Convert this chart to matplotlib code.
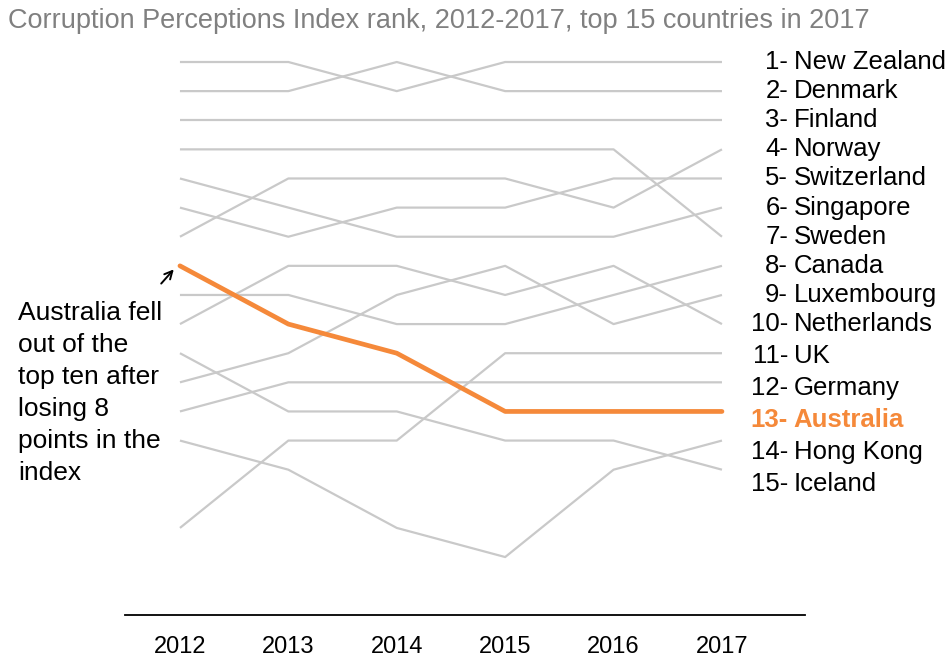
import matplotlib
matplotlib.use("Agg")
import matplotlib.pyplot as plt

plt.rcParams['font.family'] = ['Liberation Sans', 'DejaVu Sans']

# ranks, 2012-2017
years = [2012, 2013, 2014, 2015, 2016, 2017]
countries = ["New Zealand", "Denmark", "Finland", "Norway", "Switzerland",
             "Singapore", "Sweden", "Canada", "Luxembourg", "Netherlands",
             "UK", "Germany", "Australia", "Hong Kong", "Iceland"]
new_zealand = [1, 1, 2, 1, 1, 1]
denmark = [2, 2, 1, 2, 2, 2]
finland = [3, 3, 3, 3, 3, 3]
norway = [7, 5, 5, 5, 6, 4]
switzerland = [6, 7, 6, 6, 5, 5]
singapore = [5, 6, 7, 7, 7, 6]
sweden = [4, 4, 4, 4, 4, 7]
canada = [9, 9, 10, 10, 9, 8]
luxembourg = [12, 11, 9, 8, 10, 9]
netherlands = [10, 8, 8, 9, 8, 10]
uk = [17, 14, 14, 11, 11, 11]
germany = [13, 12, 12, 12, 12, 12]
australia = [8, 10, 11, 13, 13, 13]
hong_kong = [14, 15, 17, 18, 15, 14]
iceland = [11, 13, 13, 14, 14, 15]

ranks = [new_zealand, denmark, finland, norway, switzerland, singapore, sweden,
         canada, luxembourg, netherlands, uk, germany, australia, hong_kong, iceland]

grey = "#c9c9c9"
orange = "#f5893a"

fig = plt.figure(figsize=(9.52, 6.59), dpi=100)
ax = fig.add_axes([125 / 952, 44 / 659, 680 / 952, 575 / 659])

for name, r in zip(countries, ranks):
    if name == "Australia":
        continue
    ax.plot(years, r, color=grey, lw=1.6, solid_capstyle='butt', zorder=1)
ax.plot(years, australia, color=orange, lw=3.4, solid_capstyle='round', zorder=3)

ax.set_xlim(2011.493, 2017.766)
ax.set_ylim(19.99, 0.2445)

for s in ["top", "left", "right"]:
    ax.spines[s].set_visible(False)
ax.spines["bottom"].set_linewidth(1.3)
ax.set_yticks([])
ax.set_xticks(years)
ax.tick_params(axis='x', length=0, pad=15, labelsize=17)

# right-hand labels for 2017 order
final = [r[-1] for r in ranks]
order = sorted(range(len(countries)), key=lambda i: final[i])
for i in order:
    rk = final[i]
    ly = rk + max(0, rk - 10) * 0.1
    col = orange if countries[i] == "Australia" else "black"
    wt = "bold" if countries[i] == "Australia" else "normal"
    ax.text(2017.61, ly, f"{rk}-", ha='right', va='center', fontsize=18.5,
            color=col, fontweight=wt)
    ax.text(2017.66, ly, countries[i], ha='left', va='center', fontsize=18.5,
            color=col, fontweight=wt)

ax.annotate("", xy=(2011.96, 8.05), xytext=(2011.81, 8.68),
            arrowprops=dict(arrowstyle="->", color="black", lw=1.4,
                            mutation_scale=14))
ax.text(2010.506, 9.2, "Australia fell\nout of the\ntop ten after\nlosing 8\npoints in the\nindex",
        ha='left', va='top', fontsize=19, linespacing=1.42)

fig.text(8 / 952, 1 - 21 / 659,
         "Corruption Perceptions Index rank, 2012-2017, top 15 countries in 2017",
         ha='left', va='center', fontsize=19.5, color="#808080")

fig.savefig("out.png", dpi=100)
